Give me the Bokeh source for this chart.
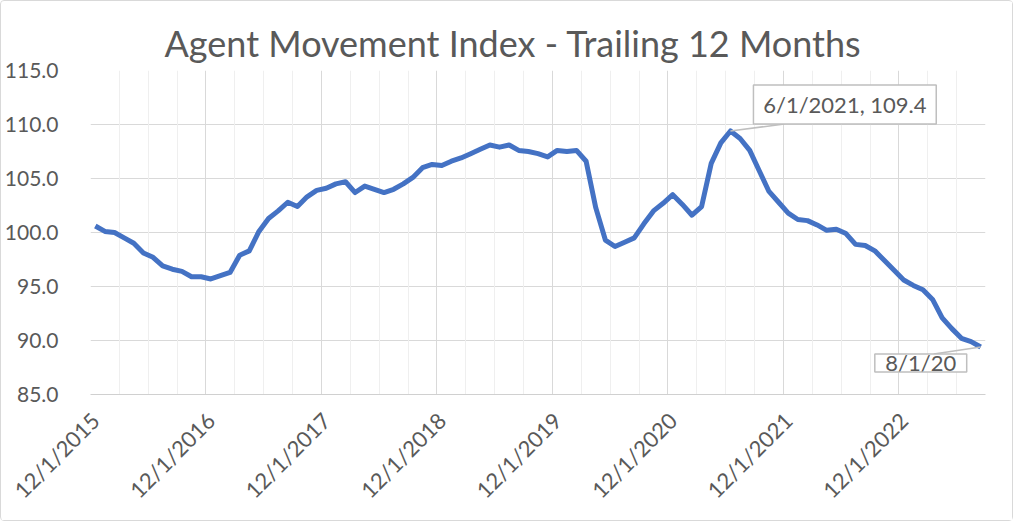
import math
import pandas as pd
from bokeh.plotting import figure
from bokeh.models import Range1d, FixedTicker, NumeralTickFormatter, Grid, ColumnDataSource
from bokeh.core.properties import value
from bokeh.embed import file_html
from bokeh.resources import INLINE

# ---------------- data ----------------
start_month = "2015-12-01"
index_values = [
    100.6, 100.1, 100.0, 99.5, 99.0, 98.1, 97.7, 96.9, 96.6, 96.4, 95.9, 95.9,
    95.7, 96.0, 96.3, 97.9, 98.3, 100.1, 101.3, 102.0, 102.8, 102.4, 103.3, 103.9,
    104.1, 104.5, 104.7, 103.7, 104.3, 104.0, 103.7, 104.0, 104.5, 105.1, 106.0, 106.3,
    106.2, 106.6, 106.9, 107.3, 107.7, 108.1, 107.9, 108.1, 107.6, 107.5, 107.3, 107.0,
    107.6, 107.5, 107.6, 106.6, 102.3, 99.3, 98.7, 99.1, 99.5, 100.8, 102.0, 102.7,
    103.5, 102.6, 101.6, 102.4, 106.4, 108.3, 109.4, 108.7, 107.6, 105.7, 103.8, 102.8,
    101.8, 101.2, 101.1, 100.7, 100.2, 100.3, 99.9, 98.9, 98.8, 98.3, 97.4, 96.5,
    95.6, 95.1, 94.7, 93.8, 92.1, 91.1, 90.2, 89.9, 89.4,
]
y_ticks = [85, 90, 95, 100, 105, 110, 115]
label_every = 12      # months between x labels
minor_every = 3       # months between minor gridlines

dates = pd.date_range(start_month, periods=len(index_values), freq="MS")
date_labels = [f"{d.month}/{d.day}/{d.year}" for d in dates]
xs = list(range(len(index_values)))

peak_i = max(range(len(index_values)), key=lambda i: index_values[i])
last_i = len(index_values) - 1

# ---------------- style ----------------
FONT = "Lato"
GREY_TEXT = "#595959"
LINE_BLUE = "#4472C4"

x0, x1 = -0.5, len(index_values) - 0.5
y0, y1 = 85, 115

W, H = 1013, 521
BL, BR, BT, BB = 88, 29, 69, 128
fw = W - BL - BR
fh = H - BT - BB
sx = (x1 - x0) / fw   # data units per px
sy = (y1 - y0) / fh

p = figure(width=W, height=H, output_backend="svg", toolbar_location=None,
           x_range=Range1d(x0, x1), y_range=Range1d(y0, y1),
           min_border_left=BL, min_border_right=BR, min_border_top=BT, min_border_bottom=BB,
           title="Agent Movement Index - Trailing 12 Months")
p.styles = {"border": "1px solid #d9d9d9", "border-radius": "4px"}
p.outline_line_color = None
p.background_fill_color = "white"
p.border_fill_color = "white"

p.title.text_font = FONT
p.title.text_font_size = "36px"
p.title.text_font_style = "normal"
p.title.text_color = GREY_TEXT
p.title.align = "left"
p.title.offset = 74
p.title.standoff = 12

# y axis
p.yaxis.ticker = FixedTicker(ticks=y_ticks)
p.yaxis.formatter = NumeralTickFormatter(format="0.0")
p.yaxis.axis_line_color = None
p.yaxis.major_tick_line_color = None
p.yaxis.minor_tick_line_color = None
p.yaxis.major_label_text_font = FONT
p.yaxis.major_label_text_font_size = "21px"
p.yaxis.major_label_text_color = GREY_TEXT
p.yaxis.major_label_standoff = 26

# x axis
label_ticks = list(range(0, len(index_values), label_every))
p.xaxis.ticker = FixedTicker(ticks=label_ticks)
p.xaxis.major_label_overrides = {t: date_labels[t] for t in label_ticks}
p.xaxis.major_label_orientation = math.pi / 4
p.xaxis.axis_line_color = "#d0d0d0"
p.xaxis.major_tick_line_color = None
p.xaxis.minor_tick_line_color = None
p.xaxis.major_label_text_font = FONT
p.xaxis.major_label_text_font_size = "22px"
p.xaxis.major_label_text_color = GREY_TEXT
p.xaxis.major_label_standoff = 16

# grids
p.ygrid.grid_line_color = "#d9d9d9"
p.ygrid.grid_line_width = 1
major_grid = [x0 + k * label_every for k in range(int((x1 - x0) // label_every) + 1)]
minor_grid = [x0 + k * minor_every for k in range(int((x1 - x0) // minor_every) + 1)
              if k % (label_every // minor_every) != 0]
p.xgrid.ticker = FixedTicker(ticks=major_grid)
p.xgrid.grid_line_color = "#d9d9d9"
p.add_layout(Grid(dimension=0, ticker=FixedTicker(ticks=minor_grid),
                  grid_line_color="#efefef", grid_line_width=1))

# series
src = ColumnDataSource(dict(x=xs, y=index_values))
p.line("x", "y", source=src, line_color=LINE_BLUE, line_width=5, line_join="round")

# ------------- data labels -------------
def off(i, v, dx, dy):
    """point (i, v) shifted by dx px right and dy px down"""
    return i + dx * sx, v - dy * sy

LBL_BORDER = "#bfbfbf"

# peak label
pv = index_values[peak_i]
l, t = off(peak_i, pv, 23, -46)
r, b = off(peak_i, pv, 206, -7)
lx, ly = off(peak_i, pv, 54, -7)
p.line([peak_i, lx], [pv, ly], line_color=LBL_BORDER, line_width=1.5)
p.quad(left=[l], right=[r], top=[t], bottom=[b], fill_color="white",
       line_color=LBL_BORDER, line_width=1.5)
p.text(x=[(l + r) / 2], y=[(t + b) / 2], text=[f"{date_labels[peak_i]}, {pv:.1f}"],
       text_font=value(FONT), text_font_size="22px", text_color=GREY_TEXT,
       text_align="center", text_baseline="middle")

# last label (truncated as in source)
lv = index_values[last_i]
l2, t2 = off(last_i, lv, -106, 7)
r2, b2 = off(last_i, lv, -14, 25)
lx2, ly2 = off(last_i, lv, -47, 7)
p.line([last_i, lx2], [lv, ly2], line_color=LBL_BORDER, line_width=1.5)
p.quad(left=[l2], right=[r2], top=[t2], bottom=[b2], fill_color="white",
       line_color=LBL_BORDER, line_width=1.5)
p.text(x=[(l2 + r2) / 2], y=[(t2 + b2) / 2], text=[date_labels[last_i][:6]],
       text_font=value(FONT), text_font_size="22px", text_color=GREY_TEXT,
       text_align="center", text_baseline="middle")

open("out.html", "w").write(file_html(p, INLINE))
